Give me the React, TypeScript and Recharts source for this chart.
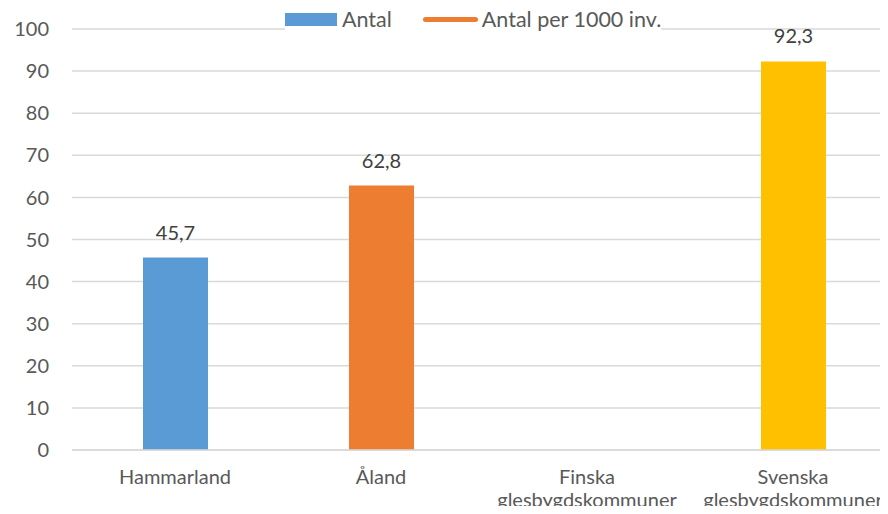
import { BarChart, Bar, XAxis, YAxis, CartesianGrid, Cell, LabelList } from "recharts";

const categories = ["Hammarland", "Åland", "Finska glesbygdskommuner", "Svenska glesbygdskommuner"];
const values: (number | null)[] = [45.7, 62.8, null, 92.3];
const barColors = ["#5B9BD5", "#ED7D31", "#A5A5A5", "#FFC000"];
const yTicks = [0, 10, 20, 30, 40, 50, 60, 70, 80, 90, 100];

const data = categories.map((name, i) => ({ name, value: values[i] }));

const FONT = "Lato, 'Noto Sans', sans-serif";
const TEXT = "#595959";

function CategoryTick({ x, y, payload }: any) {
  const words = String(payload.value).split(" ");
  return (
    <text x={x} y={y} textAnchor="middle" fill={TEXT} fontSize={20} fontFamily={FONT}>
      {words.map((w, i) => (
        <tspan key={i} x={x} dy={i === 0 ? 26 : 23}>
          {w}
        </tspan>
      ))}
    </text>
  );
}

export default function App() {
  return (
    <div style={{ position: "relative", margin: -8, width: 888, height: 514, overflow: "hidden", background: "#fff" }}>
      <BarChart
        width={896}
        height={514}
        data={data}
        margin={{ top: 29, right: 0, left: 0, bottom: 0 }}
      >
        <CartesianGrid vertical={false} stroke="#D9D9D9" strokeWidth={1.5} />
        <XAxis
          dataKey="name"
          axisLine={{ stroke: "#D9D9D9", strokeWidth: 1.5 }}
          tickLine={false}
          height={64}
          interval={0}
          tick={<CategoryTick />}
        />
        <YAxis
          domain={[0, 100]}
          ticks={yTicks}
          width={72}
          axisLine={false}
          tickLine={false}
          tickMargin={17}
          tick={{ fill: TEXT, fontSize: 20, fontFamily: FONT }}
        />
        <Bar dataKey="value" barSize={65} isAnimationActive={false}>
          {data.map((d, i) => (
            <Cell key={d.name} fill={barColors[i]} />
          ))}
          <LabelList
            dataKey="value"
            position="top"
            offset={18}
            fill="#404040"
            fontSize={20}
            fontFamily={FONT}
            formatter={(v: any) => (v == null ? "" : String(v).replace(".", ","))}
          />
        </Bar>
      </BarChart>
      <div
        style={{
          position: "absolute",
          top: 8,
          left: 285,
          display: "flex",
          alignItems: "center",
          fontFamily: FONT,
          fontSize: 21.5,
          color: TEXT,
          lineHeight: "22px",
          background: "#fff",
        }}
      >
        <span style={{ display: "inline-block", width: 52, height: 13, background: "#5B9BD5", marginRight: 5 }} />
        <span>Antal</span>
        <span
          style={{
            display: "inline-block",
            width: 55,
            height: 5,
            borderRadius: 3,
            background: "#ED7D31",
            marginLeft: 31,
            marginRight: 4,
          }}
        />
        <span>Antal per 1000 inv.</span>
      </div>
      <div
        style={{
          position: "absolute",
          top: 500,
          left: 0,
          fontFamily: "'Liberation Sans', sans-serif",
          fontSize: 26,
          color: "#000",
          lineHeight: "30px",
        }}
      >
        B: O
      </div>
    </div>
  );
}
